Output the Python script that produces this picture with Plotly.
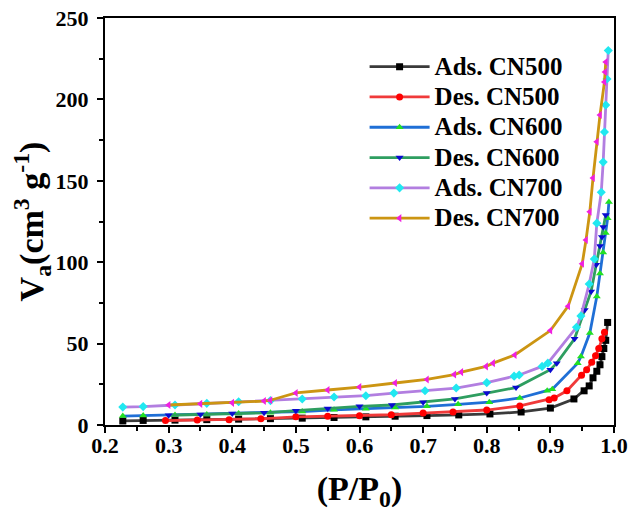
import plotly.graph_objects as go

# ---- data ----
ads500_x = [0.228, 0.26, 0.31, 0.36, 0.41, 0.46, 0.51, 0.56, 0.61, 0.656, 0.706, 0.756, 0.805,
            0.854, 0.9, 0.937, 0.953, 0.961, 0.967, 0.973, 0.978, 0.981, 0.984, 0.987, 0.99]
ads500_y = [2.5, 2.8, 3.0, 3.3, 3.6, 3.9, 4.2, 4.6, 5.0, 5.4, 5.8, 6.2, 6.8,
            8.0, 10.4, 16, 21, 24, 29, 33, 37, 42, 47, 52, 63]

des500_x = [0.295, 0.345, 0.395, 0.445, 0.5, 0.55, 0.6, 0.65, 0.7, 0.747, 0.8, 0.852, 0.898,
            0.906, 0.926, 0.949, 0.957, 0.965, 0.971, 0.976, 0.981, 0.985]
des500_y = [2.7, 3.0, 3.3, 3.8, 5.0, 5.3, 5.7, 6.3, 7.3, 8.0, 9.2, 11.7, 15.5,
            16.6, 21, 30.5, 34, 38.5, 42.5, 47, 53, 57]

ads600_x = [0.228, 0.26, 0.31, 0.36, 0.41, 0.46, 0.51, 0.56, 0.61, 0.656, 0.706, 0.755, 0.804,
            0.852, 0.895, 0.903, 0.943, 0.948, 0.962, 0.973, 0.978, 0.983, 0.987, 0.99, 0.992]
ads600_y = [5.5, 5.8, 6.2, 6.5, 7.0, 7.5, 8.3, 9.3, 10.0, 10.8, 11.5, 12.7, 14.0,
            16.6, 21, 22, 38, 42, 56.5, 79, 93, 106, 118, 127, 137]

des600_x = [0.3, 0.35, 0.4, 0.45, 0.5, 0.55, 0.6, 0.651, 0.7, 0.75, 0.8, 0.846, 0.9,
            0.91, 0.938, 0.954, 0.964, 0.972, 0.978, 0.981, 0.983, 0.987]
des600_y = [6.0, 6.5, 7.0, 7.5, 8.8, 10.2, 11.5, 12.3, 14, 16, 19.6, 23, 34,
            38, 53, 70.6, 82, 98.5, 110, 115.5, 121.6, 129]

ads700_x = [0.228, 0.26, 0.31, 0.36, 0.41, 0.46, 0.51, 0.56, 0.61, 0.654, 0.703, 0.752, 0.8,
            0.843, 0.851, 0.887, 0.896, 0.941, 0.948, 0.961, 0.969, 0.973, 0.98, 0.983,
            0.985, 0.987, 0.989, 0.991]
ads700_y = [11, 11.3, 12.3, 13.3, 14.3, 15, 16, 17.2, 18, 19.6, 21, 22.7, 26,
            30, 30.7, 36, 38, 60, 67, 86.6, 102, 124, 143, 161.5,
            180, 196.5, 212.5, 230]

des700_x = [0.3, 0.35, 0.4, 0.45, 0.46, 0.5, 0.55, 0.6, 0.656, 0.706, 0.749, 0.76, 0.799,
            0.81, 0.844, 0.9, 0.928, 0.95, 0.956, 0.962, 0.967, 0.973, 0.978, 0.985, 0.986, 0.987]
des700_y = [12.3, 13, 13.6, 14.7, 15.2, 19.7, 21.5, 23.3, 25.8, 28, 31, 32.5, 36,
            38, 43, 58, 73, 99, 113.6, 131, 151.7, 174, 190.4, 210.7, 216.8, 223]

names = ["Ads. CN500", "Des. CN500", "Ads. CN600", "Des. CN600", "Ads. CN700", "Des. CN700"]
line_colors = ["#3a3a3a", "#f03a3a", "#1f6fd6", "#2e9e60", "#b27ee0", "#cc9512"]
marker_colors = ["#000000", "#ff0000", "#22e022", "#0a0ad0", "#20e8f0", "#f020e0"]
symbols = ["square", "circle", "triangle-up", "triangle-down", "diamond", "triangle-left"]
xs = [ads500_x, des500_x, ads600_x, des600_x, ads700_x, des700_x]
ys = [ads500_y, des500_y, ads600_y, des600_y, ads700_y, des700_y]

FONT = "Liberation Serif"

fig = go.Figure()
for n, x, y, lc, mc, s in zip(names, xs, ys, line_colors, marker_colors, symbols):
    fig.add_trace(go.Scatter(
        x=x, y=y, mode="lines+markers",
        name='<span style="font-size:25px">' + n + "</span>",
        line=dict(color=lc, width=2.8),
        marker=dict(symbol=s, color=mc, size=7, line=dict(width=0)),
    ))

fig.update_layout(
    width=628, height=513,
    margin=dict(l=105, r=14, t=18, b=88),
    paper_bgcolor="white", plot_bgcolor="white",
    font=dict(family=FONT, color="black"),
    legend=dict(
        x=0.51, y=0.93, xanchor="left", yanchor="top",
        font=dict(family=FONT, size=21, color="black", weight="bold"),
        bgcolor="rgba(0,0,0,0)", tracegroupgap=0, itemwidth=60,
    ),
    showlegend=True,
)
fig.update_xaxes(
    range=[0.2, 1.0], dtick=0.1, tick0=0.2, automargin=False,
    showgrid=False, zeroline=False,
    showline=True, linecolor="black", linewidth=2, mirror=True,
    ticks="outside", ticklen=6, tickwidth=2, tickcolor="black",
    minor=dict(ticks="outside", dtick=0.05, ticklen=4, tickwidth=2, tickcolor="black"),
    tickformat=".1f", ticklabelstandoff=-6,
    tickfont=dict(family=FONT, size=22, color="black", weight="bold"),
    title=dict(text="(P/P<sub>0</sub>)", font=dict(family=FONT, size=34, color="black", weight="bold"),
               standoff=19),
)
fig.update_yaxes(
    range=[0, 250], dtick=50, automargin=False,
    showgrid=False, zeroline=False,
    showline=True, linecolor="black", linewidth=2, mirror=True,
    ticks="outside", ticklen=6, tickwidth=2, tickcolor="black",
    minor=dict(ticks="outside", dtick=25, ticklen=4, tickwidth=2, tickcolor="black"),
    ticklabelstandoff=4,
    tickfont=dict(family=FONT, size=22, color="black", weight="bold"),
    title=dict(text="V<sub>a</sub>(cm<sup>3</sup> g<sup>-1</sup>)",
               font=dict(family=FONT, size=34, color="black", weight="bold"), standoff=0),
)

fig.write_html("out.html", config={"displayModeBar": False},
               post_script="document.body.style.margin='0';")
